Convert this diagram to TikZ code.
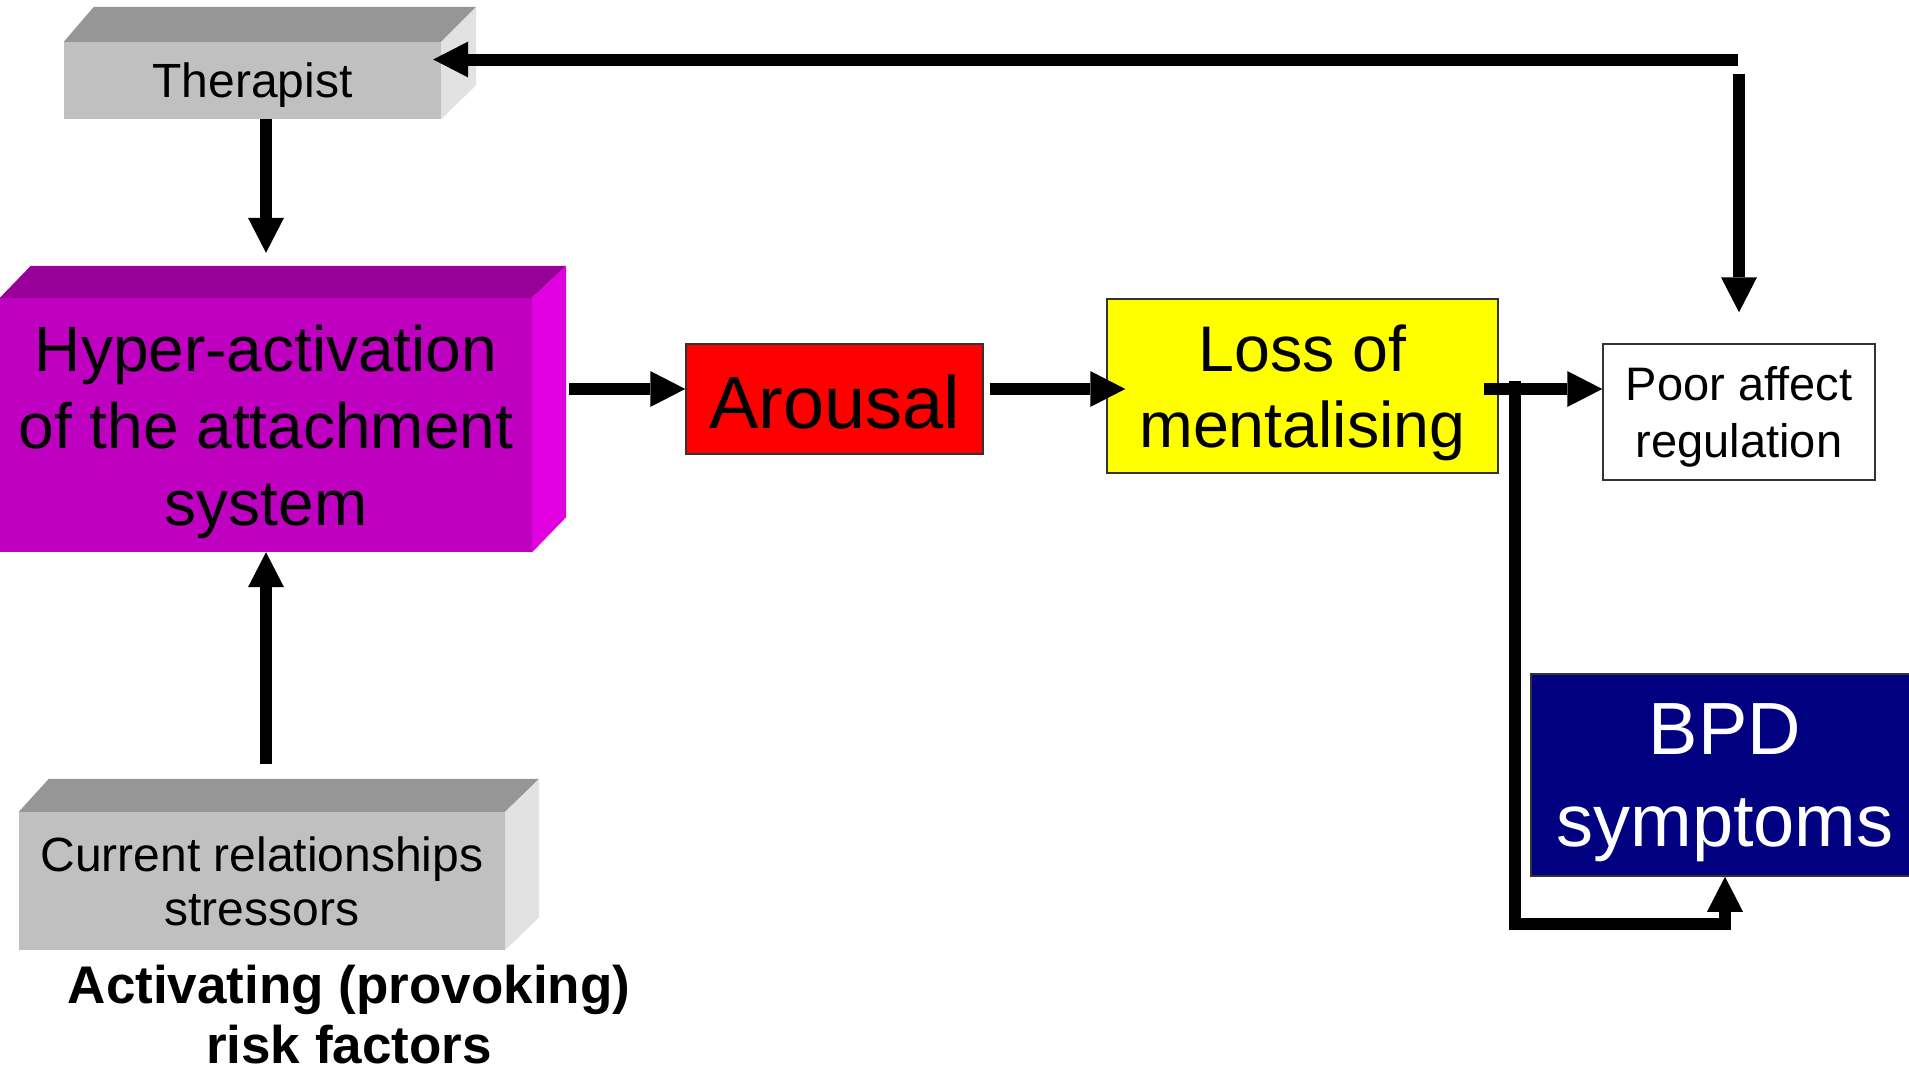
\documentclass[tikz,border=0pt]{standalone}
\usepackage{fontspec}
\setmainfont{Liberation Sans}
\usetikzlibrary{arrows.meta}
\definecolor{SlabFront}{HTML}{C0C0C0}
\definecolor{SlabTop}{HTML}{969696}
\definecolor{SlabSide}{HTML}{E2E2E2}
\definecolor{HyperFront}{HTML}{C000C0}
\definecolor{HyperTop}{HTML}{990099}
\definecolor{HyperSide}{HTML}{E000E0}
\definecolor{ArousalRed}{HTML}{FF0000}
\definecolor{LossYellow}{HTML}{FFFF00}
\definecolor{BPDNavy}{HTML}{000080}
\definecolor{BoxLine}{HTML}{333333}

\begin{document}
\begin{tikzpicture}[x=1pt,y=-1pt,>={Triangle[length=35pt,width=36pt,line width=0pt]}]
  \tikzstyle{slab}=[fill=SlabFront,inner sep=0pt,align=center,text depth=0pt,
    font=\fontsize{48}{54}\selectfont]
  \tikzstyle{stage}=[draw=BoxLine,line width=1.5pt,inner sep=0pt,align=center,text depth=0pt]
  \tikzstyle{link}=[->,line width=12pt]
  \useasboundingbox (0,0) rectangle (1909,1074);
  % left column: 3d slabs
  \node[slab,minimum width=377pt,minimum height=77pt] (therapist) at (252.5,80.5) {Therapist};
  \node[slab,fill=HyperFront,minimum width=532pt,minimum height=254pt,
    font=\fontsize{64}{77}\selectfont] (hyper) at (266,425) {Hyper-activation\\of the attachment\\system};
  \node[slab,minimum width=486pt,minimum height=138pt] (current) at (262,881) {Current relationships\\stressors};
  \node[font=\bfseries\fontsize{53}{60}\selectfont,align=center,inner sep=0pt] (risk) at (349,1015)
    {Activating (provoking)\\risk factors};
  \fill[SlabTop] (therapist.north west) -- ++(30,-35) -- ([shift={(35,-35)}]therapist.north east)
    -- (therapist.north east) -- cycle;
  \fill[SlabSide] (therapist.north east) -- ++(35,-35) -- ([shift={(35,-34)}]therapist.south east)
    -- (therapist.south east) -- cycle;
  \fill[HyperTop] (hyper.north west) -- ++(31,-32) -- ([shift={(34,-32)}]hyper.north east)
    -- (hyper.north east) -- cycle;
  \fill[HyperSide] (hyper.north east) -- ++(34,-32) -- ([shift={(34,-35)}]hyper.south east)
    -- (hyper.south east) -- cycle;
  \fill[SlabTop] (current.north west) -- ++(30,-33) -- ([shift={(34,-33)}]current.north east)
    -- (current.north east) -- cycle;
  \fill[SlabSide] (current.north east) -- ++(34,-33) -- ([shift={(34,-33)}]current.south east)
    -- (current.south east) -- cycle;
  % chain to the right
  \node[stage,fill=ArousalRed,minimum width=297pt,minimum height=110pt,text height=58pt,
    font=\fontsize{74}{89}\selectfont] (arousal) at (834.5,399) {Arousal};
  \node[stage,fill=LossYellow,minimum width=391pt,minimum height=174pt,
    font=\fontsize{64.5}{76}\selectfont] (loss) at (1302.5,386) {Loss of\\mentalising};
  \node[stage,fill=white,minimum width=272pt,minimum height=136pt,
    font=\fontsize{47}{57}\selectfont] (poor) at (1739,412) {Poor affect\\regulation};
  \node[stage,fill=BPDNavy,text=white,minimum width=388pt,minimum height=202pt,
    font=\fontsize{74}{92}\selectfont] (bpd) at (1725,775) {BPD\\symptoms};
  \coordinate (row) at (0,389);
  \coordinate (split) at (1515,381);
  \coordinate (loopcorner) at (1738,59.5);
  \coordinate (loopdrop) at (1739,74);
  \draw[link,shorten >=45pt] (therapist.south -| hyper.north) -- (hyper.north);
  \draw[link,shorten <=48pt] (current.north -| hyper.south) -- (hyper.south);
  \draw[link,shorten <=37pt] (hyper.east |- row) -- (arousal.west |- row);
  \draw[link,shorten <=6pt,shorten >=-19pt] (arousal.east |- row) -- (loss.west |- row);
  \draw[link,shorten <=-15pt] (loss.east |- row) -- (poor.west |- row);
  \draw[link,line join=miter] (split) |- ([yshift=-47pt]bpd.south) -- (bpd.south);
  % feedback loop
  \draw[link,shorten >=-8pt] (loopcorner) -- (therapist.east |- loopcorner);
  \draw[link,shorten >=31pt] (loopdrop) -- (poor.north);
\end{tikzpicture}
\end{document}
